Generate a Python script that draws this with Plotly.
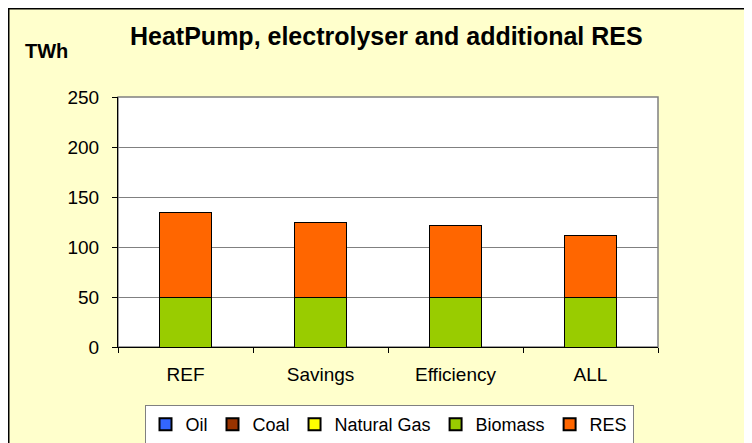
import plotly.graph_objects as go

categories = ["REF", "Savings", "Efficiency", "ALL"]
oil = [0, 0, 0, 0]
coal = [0, 0, 0, 0]
natural_gas = [0, 0, 0, 0]
biomass = [50, 50, 50, 50]
res = [85, 75, 72, 62]
y_ticks = [0, 50, 100, 150, 200, 250]

series = [
    ("Oil", oil, "#3366FF"),
    ("Coal", coal, "#993300"),
    ("Natural Gas", natural_gas, "#FFFF00"),
    ("Biomass", biomass, "#99CC00"),
    ("RES", res, "#FF6600"),
]

# page body has an 8px margin, so the figure starts at (8, 8) on screen
W, H = 744, 435
L, R, T, B = 110, 94, 89, 96
pw, ph = W - L - R, H - T - B

def px_x(p):
    return (p - L) / pw

def px_y(p):
    return (H - B - p) / ph

fig = go.Figure()
for name, vals, col in series:
    fig.add_trace(go.Bar(
        x=categories, y=vals, name=name,
        marker=dict(color=col, line=dict(color="black", width=1)),
    ))

font = "Liberation Sans, Arial, sans-serif"
fig.update_layout(
    width=W, height=H,
    margin=dict(l=L, r=R, t=T, b=B, autoexpand=False),
    barmode="stack",
    bargap=0.62,
    paper_bgcolor="#FFFFCC",
    plot_bgcolor="white",
    font=dict(family=font, size=19, color="black"),
    showlegend=True,
    legend=dict(
        orientation="h", traceorder="normal",
        xref="container", yref="container",
        x=381 / W, xanchor="center", y=1 - 397 / H, yanchor="top",
        bgcolor="white", bordercolor="#808080", borderwidth=1,
        font=dict(size=18), itemsizing="constant",
        itemwidth=30, tracegroupgap=0,
    ),
    xaxis=dict(
        showline=True, linecolor="black", linewidth=1,
        ticks="outside", tickson="boundaries", ticklen=5, tickcolor="black",
        showgrid=False, tickfont=dict(size=19), ticklabelstandoff=10,
        automargin=False,
    ),
    yaxis=dict(
        range=[0, 250], tickvals=y_ticks,
        showline=True, linecolor="black", linewidth=1,
        ticks="outside", ticklen=5, tickcolor="black",
        showgrid=True, gridcolor="#808080", gridwidth=1,
        tickfont=dict(size=19), zeroline=False, ticklabelstandoff=9,
        automargin=False,
    ),
    shapes=[
        dict(type="rect", xref="paper", yref="paper", x0=0, x1=1, y0=0, y1=1,
             line=dict(color="#808080", width=1.5), layer="below"),
        dict(type="rect", xref="paper", yref="paper",
             x0=px_x(0.75), x1=px_x(800), y0=px_y(0.75), y1=px_y(500),
             line=dict(color="black", width=1.5), layer="below"),
    ],
    annotations=[
        dict(text="<b>HeatPump, electrolyser and additional RES</b>",
             xref="paper", yref="paper", x=px_x(378), y=px_y(28),
             xanchor="center", yanchor="middle", showarrow=False,
             font=dict(size=25)),
        dict(text="<b>TWh</b>", xref="paper", yref="paper",
             x=px_x(38), y=px_y(43), xanchor="center", yanchor="middle",
             showarrow=False, font=dict(size=20)),
    ],
)

fig.write_html("out.html")
